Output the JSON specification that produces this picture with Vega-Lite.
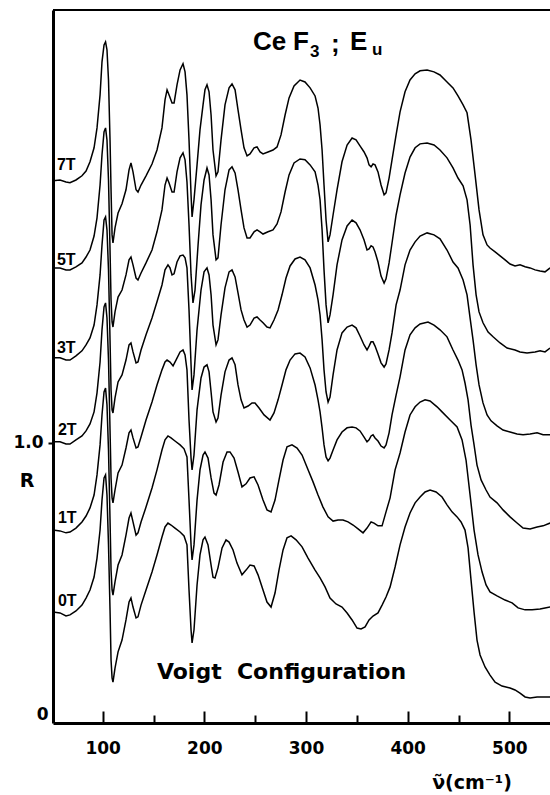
{
"$schema":"https://vega.github.io/schema/vega-lite/v6.json",
"width":497,"height":713,
"autosize":{"type":"none"},
"padding":{"left":53,"top":10,"right":0,"bottom":72},
"background":"white",
"config":{"view":{"stroke":null},"font":"DejaVu Sans"},
"datasets":{
"curves":[
{"s":"7T","nu":51.1,"R":1.936},{"s":"7T","nu":58.0,"R":1.939},{"s":"7T","nu":63.9,"R":1.932},{"s":"7T","nu":67.8,"R":1.929},{"s":"7T","nu":73.7,"R":1.939},{"s":"7T","nu":79.6,"R":1.954},{"s":"7T","nu":83.6,"R":1.971},{"s":"7T","nu":87.5,"R":2.004},{"s":"7T","nu":91.5,"R":2.054},{"s":"7T","nu":94.4,"R":2.125},{"s":"7T","nu":97.4,"R":2.243},{"s":"7T","nu":99.3,"R":2.361},{"s":"7T","nu":101.3,"R":2.421},{"s":"7T","nu":102.8,"R":2.432},{"s":"7T","nu":104.2,"R":2.404},{"s":"7T","nu":105.7,"R":2.296},{"s":"7T","nu":107.2,"R":2.082},{"s":"7T","nu":108.2,"R":1.904},{"s":"7T","nu":109.2,"R":1.743},{"s":"7T","nu":110.1,"R":1.714},{"s":"7T","nu":112.1,"R":1.768},{"s":"7T","nu":115.1,"R":1.821},{"s":"7T","nu":119.0,"R":1.854},{"s":"7T","nu":122.9,"R":1.904},{"s":"7T","nu":125.9,"R":1.975},{"s":"7T","nu":127.8,"R":2.000},{"s":"7T","nu":129.8,"R":1.968},{"s":"7T","nu":132.8,"R":1.904},{"s":"7T","nu":134.7,"R":1.896},{"s":"7T","nu":137.7,"R":1.921},{"s":"7T","nu":142.6,"R":1.954},{"s":"7T","nu":148.5,"R":1.996},{"s":"7T","nu":153.4,"R":2.046},{"s":"7T","nu":158.3,"R":2.125},{"s":"7T","nu":161.3,"R":2.225},{"s":"7T","nu":163.3,"R":2.261},{"s":"7T","nu":165.2,"R":2.243},{"s":"7T","nu":168.2,"R":2.214},{"s":"7T","nu":170.2,"R":2.214},{"s":"7T","nu":173.1,"R":2.279},{"s":"7T","nu":176.1,"R":2.332},{"s":"7T","nu":179.0,"R":2.354},{"s":"7T","nu":181.0,"R":2.325},{"s":"7T","nu":182.9,"R":2.243},{"s":"7T","nu":184.9,"R":2.082},{"s":"7T","nu":186.9,"R":1.886},{"s":"7T","nu":187.9,"R":1.807},{"s":"7T","nu":189.8,"R":1.868},{"s":"7T","nu":192.8,"R":1.993},{"s":"7T","nu":195.7,"R":2.118},{"s":"7T","nu":198.7,"R":2.207},{"s":"7T","nu":200.6,"R":2.261},{"s":"7T","nu":202.6,"R":2.279},{"s":"7T","nu":204.6,"R":2.254},{"s":"7T","nu":206.6,"R":2.171},{"s":"7T","nu":208.5,"R":2.046},{"s":"7T","nu":211.5,"R":1.954},{"s":"7T","nu":213.4,"R":1.968},{"s":"7T","nu":216.4,"R":2.082},{"s":"7T","nu":220.3,"R":2.207},{"s":"7T","nu":224.3,"R":2.268},{"s":"7T","nu":227.2,"R":2.282},{"s":"7T","nu":230.2,"R":2.261},{"s":"7T","nu":233.1,"R":2.189},{"s":"7T","nu":236.1,"R":2.118},{"s":"7T","nu":239.0,"R":2.054},{"s":"7T","nu":242.0,"R":2.025},{"s":"7T","nu":244.9,"R":2.032},{"s":"7T","nu":248.9,"R":2.054},{"s":"7T","nu":251.8,"R":2.057},{"s":"7T","nu":254.8,"R":2.039},{"s":"7T","nu":257.7,"R":2.032},{"s":"7T","nu":262.6,"R":2.039},{"s":"7T","nu":267.5,"R":2.046},{"s":"7T","nu":271.5,"R":2.057},{"s":"7T","nu":275.4,"R":2.100},{"s":"7T","nu":279.4,"R":2.171},{"s":"7T","nu":283.3,"R":2.232},{"s":"7T","nu":288.2,"R":2.275},{"s":"7T","nu":294.1,"R":2.296},{"s":"7T","nu":299.0,"R":2.289},{"s":"7T","nu":304.0,"R":2.268},{"s":"7T","nu":308.9,"R":2.239},{"s":"7T","nu":311.8,"R":2.196},{"s":"7T","nu":313.8,"R":2.136},{"s":"7T","nu":315.8,"R":2.046},{"s":"7T","nu":317.7,"R":1.921},{"s":"7T","nu":319.7,"R":1.796},{"s":"7T","nu":321.7,"R":1.718},{"s":"7T","nu":323.6,"R":1.743},{"s":"7T","nu":326.6,"R":1.814},{"s":"7T","nu":330.5,"R":1.904},{"s":"7T","nu":335.4,"R":2.004},{"s":"7T","nu":340.4,"R":2.064},{"s":"7T","nu":345.3,"R":2.089},{"s":"7T","nu":349.2,"R":2.082},{"s":"7T","nu":353.1,"R":2.061},{"s":"7T","nu":357.1,"R":2.039},{"s":"7T","nu":360.0,"R":2.018},{"s":"7T","nu":362.0,"R":1.993},{"s":"7T","nu":364.0,"R":1.986},{"s":"7T","nu":365.9,"R":1.996},{"s":"7T","nu":367.9,"R":1.993},{"s":"7T","nu":370.8,"R":1.968},{"s":"7T","nu":373.8,"R":1.921},{"s":"7T","nu":376.8,"R":1.886},{"s":"7T","nu":378.7,"R":1.893},{"s":"7T","nu":381.7,"R":1.946},{"s":"7T","nu":384.6,"R":2.011},{"s":"7T","nu":388.6,"R":2.100},{"s":"7T","nu":392.5,"R":2.182},{"s":"7T","nu":397.4,"R":2.254},{"s":"7T","nu":402.3,"R":2.296},{"s":"7T","nu":407.3,"R":2.318},{"s":"7T","nu":412.2,"R":2.329},{"s":"7T","nu":419.1,"R":2.332},{"s":"7T","nu":425.9,"R":2.325},{"s":"7T","nu":431.8,"R":2.314},{"s":"7T","nu":438.7,"R":2.289},{"s":"7T","nu":444.6,"R":2.268},{"s":"7T","nu":449.5,"R":2.239},{"s":"7T","nu":454.5,"R":2.207},{"s":"7T","nu":458.4,"R":2.179},{"s":"7T","nu":462.3,"R":2.082},{"s":"7T","nu":466.3,"R":1.957},{"s":"7T","nu":470.2,"R":1.832},{"s":"7T","nu":474.1,"R":1.743},{"s":"7T","nu":478.1,"R":1.707},{"s":"7T","nu":481.0,"R":1.696},{"s":"7T","nu":486.0,"R":1.682},{"s":"7T","nu":490.9,"R":1.668},{"s":"7T","nu":495.8,"R":1.654},{"s":"7T","nu":500.7,"R":1.639},{"s":"7T","nu":505.6,"R":1.632},{"s":"7T","nu":510.5,"R":1.636},{"s":"7T","nu":515.5,"R":1.629},{"s":"7T","nu":520.4,"R":1.625},{"s":"7T","nu":525.3,"R":1.618},{"s":"7T","nu":530.2,"R":1.614},{"s":"7T","nu":535.1,"R":1.611},{"s":"7T","nu":540.1,"R":1.625},
{"s":"5T","nu":51.1,"R":1.625},{"s":"5T","nu":58.0,"R":1.625},{"s":"5T","nu":63.9,"R":1.618},{"s":"5T","nu":67.8,"R":1.618},{"s":"5T","nu":73.7,"R":1.629},{"s":"5T","nu":79.6,"R":1.643},{"s":"5T","nu":83.6,"R":1.664},{"s":"5T","nu":87.5,"R":1.689},{"s":"5T","nu":91.5,"R":1.739},{"s":"5T","nu":94.4,"R":1.804},{"s":"5T","nu":97.4,"R":1.921},{"s":"5T","nu":99.3,"R":2.029},{"s":"5T","nu":101.3,"R":2.111},{"s":"5T","nu":102.8,"R":2.125},{"s":"5T","nu":104.2,"R":2.082},{"s":"5T","nu":105.7,"R":1.939},{"s":"5T","nu":107.2,"R":1.689},{"s":"5T","nu":108.2,"R":1.511},{"s":"5T","nu":109.2,"R":1.432},{"s":"5T","nu":110.1,"R":1.414},{"s":"5T","nu":112.1,"R":1.468},{"s":"5T","nu":115.1,"R":1.521},{"s":"5T","nu":119.0,"R":1.546},{"s":"5T","nu":122.9,"R":1.600},{"s":"5T","nu":125.9,"R":1.654},{"s":"5T","nu":127.8,"R":1.664},{"s":"5T","nu":129.8,"R":1.636},{"s":"5T","nu":132.8,"R":1.589},{"s":"5T","nu":134.7,"R":1.582},{"s":"5T","nu":137.7,"R":1.607},{"s":"5T","nu":142.6,"R":1.643},{"s":"5T","nu":148.5,"R":1.689},{"s":"5T","nu":153.4,"R":1.754},{"s":"5T","nu":158.3,"R":1.832},{"s":"5T","nu":161.3,"R":1.921},{"s":"5T","nu":163.3,"R":1.946},{"s":"5T","nu":165.2,"R":1.929},{"s":"5T","nu":168.2,"R":1.896},{"s":"5T","nu":170.2,"R":1.896},{"s":"5T","nu":173.1,"R":1.968},{"s":"5T","nu":176.1,"R":2.018},{"s":"5T","nu":179.0,"R":2.036},{"s":"5T","nu":181.0,"R":2.011},{"s":"5T","nu":182.9,"R":1.932},{"s":"5T","nu":184.9,"R":1.779},{"s":"5T","nu":186.9,"R":1.600},{"s":"5T","nu":188.8,"R":1.500},{"s":"5T","nu":190.8,"R":1.546},{"s":"5T","nu":193.8,"R":1.707},{"s":"5T","nu":196.7,"R":1.850},{"s":"5T","nu":199.7,"R":1.939},{"s":"5T","nu":202.6,"R":1.982},{"s":"5T","nu":204.6,"R":1.957},{"s":"5T","nu":206.6,"R":1.868},{"s":"5T","nu":208.5,"R":1.743},{"s":"5T","nu":211.5,"R":1.654},{"s":"5T","nu":213.4,"R":1.661},{"s":"5T","nu":216.4,"R":1.779},{"s":"5T","nu":220.3,"R":1.904},{"s":"5T","nu":224.3,"R":1.975},{"s":"5T","nu":227.2,"R":1.986},{"s":"5T","nu":230.2,"R":1.964},{"s":"5T","nu":233.1,"R":1.904},{"s":"5T","nu":236.1,"R":1.832},{"s":"5T","nu":239.0,"R":1.768},{"s":"5T","nu":242.0,"R":1.732},{"s":"5T","nu":244.9,"R":1.732},{"s":"5T","nu":248.9,"R":1.754},{"s":"5T","nu":251.8,"R":1.761},{"s":"5T","nu":254.8,"R":1.754},{"s":"5T","nu":257.7,"R":1.746},{"s":"5T","nu":262.6,"R":1.754},{"s":"5T","nu":267.5,"R":1.761},{"s":"5T","nu":271.5,"R":1.782},{"s":"5T","nu":275.4,"R":1.825},{"s":"5T","nu":279.4,"R":1.896},{"s":"5T","nu":283.3,"R":1.957},{"s":"5T","nu":288.2,"R":2.000},{"s":"5T","nu":294.1,"R":2.014},{"s":"5T","nu":299.0,"R":2.011},{"s":"5T","nu":304.0,"R":1.993},{"s":"5T","nu":308.9,"R":1.968},{"s":"5T","nu":311.8,"R":1.921},{"s":"5T","nu":313.8,"R":1.868},{"s":"5T","nu":315.8,"R":1.761},{"s":"5T","nu":317.7,"R":1.618},{"s":"5T","nu":319.7,"R":1.493},{"s":"5T","nu":321.7,"R":1.429},{"s":"5T","nu":323.6,"R":1.457},{"s":"5T","nu":326.6,"R":1.529},{"s":"5T","nu":330.5,"R":1.636},{"s":"5T","nu":335.4,"R":1.725},{"s":"5T","nu":340.4,"R":1.775},{"s":"5T","nu":345.3,"R":1.796},{"s":"5T","nu":349.2,"R":1.786},{"s":"5T","nu":353.1,"R":1.761},{"s":"5T","nu":357.1,"R":1.725},{"s":"5T","nu":360.0,"R":1.689},{"s":"5T","nu":362.0,"R":1.693},{"s":"5T","nu":364.0,"R":1.704},{"s":"5T","nu":365.9,"R":1.700},{"s":"5T","nu":367.9,"R":1.682},{"s":"5T","nu":370.8,"R":1.646},{"s":"5T","nu":373.8,"R":1.596},{"s":"5T","nu":376.8,"R":1.571},{"s":"5T","nu":378.7,"R":1.586},{"s":"5T","nu":381.7,"R":1.643},{"s":"5T","nu":384.6,"R":1.714},{"s":"5T","nu":388.6,"R":1.814},{"s":"5T","nu":392.5,"R":1.886},{"s":"5T","nu":397.4,"R":1.964},{"s":"5T","nu":402.3,"R":2.021},{"s":"5T","nu":407.3,"R":2.054},{"s":"5T","nu":412.2,"R":2.068},{"s":"5T","nu":419.1,"R":2.071},{"s":"5T","nu":425.9,"R":2.064},{"s":"5T","nu":431.8,"R":2.046},{"s":"5T","nu":438.7,"R":2.018},{"s":"5T","nu":444.6,"R":1.982},{"s":"5T","nu":449.5,"R":1.946},{"s":"5T","nu":454.5,"R":1.918},{"s":"5T","nu":458.4,"R":1.868},{"s":"5T","nu":461.4,"R":1.779},{"s":"5T","nu":464.3,"R":1.636},{"s":"5T","nu":467.3,"R":1.529},{"s":"5T","nu":470.2,"R":1.468},{"s":"5T","nu":474.1,"R":1.429},{"s":"5T","nu":479.1,"R":1.396},{"s":"5T","nu":484.0,"R":1.379},{"s":"5T","nu":490.9,"R":1.357},{"s":"5T","nu":497.8,"R":1.339},{"s":"5T","nu":505.6,"R":1.332},{"s":"5T","nu":510.5,"R":1.325},{"s":"5T","nu":517.4,"R":1.321},{"s":"5T","nu":525.3,"R":1.325},{"s":"5T","nu":530.2,"R":1.329},{"s":"5T","nu":535.1,"R":1.325},{"s":"5T","nu":540.1,"R":1.339},
{"s":"3T","nu":51.1,"R":1.304},{"s":"3T","nu":58.0,"R":1.304},{"s":"3T","nu":63.9,"R":1.296},{"s":"3T","nu":67.8,"R":1.296},{"s":"3T","nu":73.7,"R":1.311},{"s":"3T","nu":79.6,"R":1.329},{"s":"3T","nu":83.6,"R":1.350},{"s":"3T","nu":87.5,"R":1.375},{"s":"3T","nu":91.5,"R":1.421},{"s":"3T","nu":94.4,"R":1.493},{"s":"3T","nu":97.4,"R":1.600},{"s":"3T","nu":99.3,"R":1.707},{"s":"3T","nu":101.3,"R":1.796},{"s":"3T","nu":102.8,"R":1.807},{"s":"3T","nu":104.2,"R":1.761},{"s":"3T","nu":105.7,"R":1.618},{"s":"3T","nu":107.2,"R":1.368},{"s":"3T","nu":108.2,"R":1.189},{"s":"3T","nu":109.2,"R":1.118},{"s":"3T","nu":110.1,"R":1.107},{"s":"3T","nu":112.1,"R":1.161},{"s":"3T","nu":115.1,"R":1.218},{"s":"3T","nu":119.0,"R":1.243},{"s":"3T","nu":122.9,"R":1.296},{"s":"3T","nu":125.9,"R":1.350},{"s":"3T","nu":127.8,"R":1.357},{"s":"3T","nu":129.8,"R":1.325},{"s":"3T","nu":132.8,"R":1.286},{"s":"3T","nu":134.7,"R":1.289},{"s":"3T","nu":137.7,"R":1.332},{"s":"3T","nu":142.6,"R":1.386},{"s":"3T","nu":148.5,"R":1.446},{"s":"3T","nu":153.4,"R":1.504},{"s":"3T","nu":158.3,"R":1.564},{"s":"3T","nu":161.3,"R":1.618},{"s":"3T","nu":164.2,"R":1.636},{"s":"3T","nu":166.2,"R":1.625},{"s":"3T","nu":168.2,"R":1.600},{"s":"3T","nu":170.2,"R":1.604},{"s":"3T","nu":173.1,"R":1.646},{"s":"3T","nu":176.1,"R":1.668},{"s":"3T","nu":179.0,"R":1.671},{"s":"3T","nu":181.0,"R":1.661},{"s":"3T","nu":182.9,"R":1.625},{"s":"3T","nu":184.9,"R":1.475},{"s":"3T","nu":186.9,"R":1.279},{"s":"3T","nu":187.9,"R":1.189},{"s":"3T","nu":189.8,"R":1.243},{"s":"3T","nu":192.8,"R":1.404},{"s":"3T","nu":196.7,"R":1.546},{"s":"3T","nu":199.7,"R":1.611},{"s":"3T","nu":202.6,"R":1.625},{"s":"3T","nu":204.6,"R":1.600},{"s":"3T","nu":206.6,"R":1.529},{"s":"3T","nu":208.5,"R":1.421},{"s":"3T","nu":211.5,"R":1.350},{"s":"3T","nu":213.4,"R":1.368},{"s":"3T","nu":216.4,"R":1.457},{"s":"3T","nu":220.3,"R":1.554},{"s":"3T","nu":224.3,"R":1.611},{"s":"3T","nu":227.2,"R":1.618},{"s":"3T","nu":230.2,"R":1.593},{"s":"3T","nu":233.1,"R":1.536},{"s":"3T","nu":236.1,"R":1.475},{"s":"3T","nu":239.0,"R":1.439},{"s":"3T","nu":242.0,"R":1.414},{"s":"3T","nu":244.9,"R":1.421},{"s":"3T","nu":248.9,"R":1.446},{"s":"3T","nu":251.8,"R":1.450},{"s":"3T","nu":254.8,"R":1.439},{"s":"3T","nu":257.7,"R":1.429},{"s":"3T","nu":261.6,"R":1.414},{"s":"3T","nu":264.6,"R":1.411},{"s":"3T","nu":268.5,"R":1.439},{"s":"3T","nu":272.5,"R":1.475},{"s":"3T","nu":276.4,"R":1.529},{"s":"3T","nu":280.3,"R":1.589},{"s":"3T","nu":284.3,"R":1.632},{"s":"3T","nu":289.2,"R":1.657},{"s":"3T","nu":294.1,"R":1.664},{"s":"3T","nu":299.0,"R":1.654},{"s":"3T","nu":304.0,"R":1.625},{"s":"3T","nu":308.9,"R":1.564},{"s":"3T","nu":311.8,"R":1.511},{"s":"3T","nu":313.8,"R":1.457},{"s":"3T","nu":315.8,"R":1.368},{"s":"3T","nu":317.7,"R":1.261},{"s":"3T","nu":319.7,"R":1.182},{"s":"3T","nu":321.7,"R":1.146},{"s":"3T","nu":323.6,"R":1.164},{"s":"3T","nu":326.6,"R":1.243},{"s":"3T","nu":330.5,"R":1.332},{"s":"3T","nu":335.4,"R":1.393},{"s":"3T","nu":340.4,"R":1.414},{"s":"3T","nu":345.3,"R":1.421},{"s":"3T","nu":349.2,"R":1.411},{"s":"3T","nu":353.1,"R":1.382},{"s":"3T","nu":357.1,"R":1.350},{"s":"3T","nu":360.0,"R":1.332},{"s":"3T","nu":362.0,"R":1.346},{"s":"3T","nu":364.0,"R":1.361},{"s":"3T","nu":365.9,"R":1.361},{"s":"3T","nu":367.9,"R":1.346},{"s":"3T","nu":370.8,"R":1.318},{"s":"3T","nu":373.8,"R":1.286},{"s":"3T","nu":376.8,"R":1.271},{"s":"3T","nu":378.7,"R":1.282},{"s":"3T","nu":381.7,"R":1.332},{"s":"3T","nu":384.6,"R":1.393},{"s":"3T","nu":388.6,"R":1.493},{"s":"3T","nu":392.5,"R":1.546},{"s":"3T","nu":397.4,"R":1.636},{"s":"3T","nu":402.3,"R":1.689},{"s":"3T","nu":407.3,"R":1.718},{"s":"3T","nu":412.2,"R":1.739},{"s":"3T","nu":419.1,"R":1.750},{"s":"3T","nu":425.9,"R":1.743},{"s":"3T","nu":431.8,"R":1.729},{"s":"3T","nu":438.7,"R":1.689},{"s":"3T","nu":444.6,"R":1.646},{"s":"3T","nu":449.5,"R":1.625},{"s":"3T","nu":454.5,"R":1.582},{"s":"3T","nu":458.4,"R":1.529},{"s":"3T","nu":461.4,"R":1.446},{"s":"3T","nu":464.3,"R":1.368},{"s":"3T","nu":467.3,"R":1.279},{"s":"3T","nu":470.2,"R":1.207},{"s":"3T","nu":474.1,"R":1.143},{"s":"3T","nu":478.1,"R":1.100},{"s":"3T","nu":482.0,"R":1.079},{"s":"3T","nu":487.9,"R":1.061},{"s":"3T","nu":493.8,"R":1.046},{"s":"3T","nu":500.7,"R":1.039},{"s":"3T","nu":507.6,"R":1.032},{"s":"3T","nu":513.5,"R":1.029},{"s":"3T","nu":520.4,"R":1.032},{"s":"3T","nu":527.3,"R":1.036},{"s":"3T","nu":533.2,"R":1.029},{"s":"3T","nu":540.1,"R":1.029},
{"s":"2T","nu":51.1,"R":1.004},{"s":"2T","nu":58.0,"R":1.004},{"s":"2T","nu":63.9,"R":0.996},{"s":"2T","nu":67.8,"R":0.996},{"s":"2T","nu":73.7,"R":1.011},{"s":"2T","nu":79.6,"R":1.025},{"s":"2T","nu":83.6,"R":1.043},{"s":"2T","nu":87.5,"R":1.068},{"s":"2T","nu":91.5,"R":1.111},{"s":"2T","nu":94.4,"R":1.179},{"s":"2T","nu":97.4,"R":1.289},{"s":"2T","nu":99.3,"R":1.404},{"s":"2T","nu":101.3,"R":1.486},{"s":"2T","nu":102.8,"R":1.500},{"s":"2T","nu":104.2,"R":1.446},{"s":"2T","nu":105.7,"R":1.296},{"s":"2T","nu":107.2,"R":1.046},{"s":"2T","nu":108.2,"R":0.875},{"s":"2T","nu":109.2,"R":0.804},{"s":"2T","nu":110.1,"R":0.786},{"s":"2T","nu":112.1,"R":0.832},{"s":"2T","nu":115.1,"R":0.893},{"s":"2T","nu":119.0,"R":0.921},{"s":"2T","nu":122.9,"R":0.982},{"s":"2T","nu":125.9,"R":1.036},{"s":"2T","nu":127.8,"R":1.046},{"s":"2T","nu":129.8,"R":1.018},{"s":"2T","nu":132.8,"R":0.982},{"s":"2T","nu":134.7,"R":0.986},{"s":"2T","nu":137.7,"R":1.021},{"s":"2T","nu":142.6,"R":1.082},{"s":"2T","nu":148.5,"R":1.146},{"s":"2T","nu":153.4,"R":1.207},{"s":"2T","nu":158.3,"R":1.261},{"s":"2T","nu":161.3,"R":1.289},{"s":"2T","nu":163.3,"R":1.296},{"s":"2T","nu":166.2,"R":1.289},{"s":"2T","nu":169.2,"R":1.275},{"s":"2T","nu":172.1,"R":1.296},{"s":"2T","nu":176.1,"R":1.325},{"s":"2T","nu":179.0,"R":1.332},{"s":"2T","nu":181.0,"R":1.314},{"s":"2T","nu":182.9,"R":1.261},{"s":"2T","nu":184.9,"R":1.082},{"s":"2T","nu":186.9,"R":0.946},{"s":"2T","nu":187.9,"R":0.904},{"s":"2T","nu":189.8,"R":0.957},{"s":"2T","nu":192.8,"R":1.118},{"s":"2T","nu":196.7,"R":1.232},{"s":"2T","nu":199.7,"R":1.271},{"s":"2T","nu":202.6,"R":1.279},{"s":"2T","nu":204.6,"R":1.254},{"s":"2T","nu":206.6,"R":1.182},{"s":"2T","nu":208.5,"R":1.111},{"s":"2T","nu":211.5,"R":1.075},{"s":"2T","nu":213.4,"R":1.089},{"s":"2T","nu":216.4,"R":1.171},{"s":"2T","nu":220.3,"R":1.254},{"s":"2T","nu":224.3,"R":1.296},{"s":"2T","nu":227.2,"R":1.304},{"s":"2T","nu":230.2,"R":1.279},{"s":"2T","nu":233.1,"R":1.207},{"s":"2T","nu":236.1,"R":1.154},{"s":"2T","nu":239.0,"R":1.125},{"s":"2T","nu":243.0,"R":1.132},{"s":"2T","nu":246.9,"R":1.143},{"s":"2T","nu":249.8,"R":1.143},{"s":"2T","nu":253.8,"R":1.125},{"s":"2T","nu":258.7,"R":1.100},{"s":"2T","nu":264.6,"R":1.082},{"s":"2T","nu":268.5,"R":1.107},{"s":"2T","nu":272.5,"R":1.154},{"s":"2T","nu":276.4,"R":1.207},{"s":"2T","nu":280.3,"R":1.261},{"s":"2T","nu":284.3,"R":1.296},{"s":"2T","nu":289.2,"R":1.318},{"s":"2T","nu":294.1,"R":1.321},{"s":"2T","nu":299.0,"R":1.307},{"s":"2T","nu":304.0,"R":1.268},{"s":"2T","nu":308.9,"R":1.207},{"s":"2T","nu":311.8,"R":1.154},{"s":"2T","nu":313.8,"R":1.111},{"s":"2T","nu":315.8,"R":1.054},{"s":"2T","nu":317.7,"R":0.993},{"s":"2T","nu":319.7,"R":0.950},{"s":"2T","nu":321.7,"R":0.936},{"s":"2T","nu":323.6,"R":0.946},{"s":"2T","nu":326.6,"R":0.975},{"s":"2T","nu":330.5,"R":1.011},{"s":"2T","nu":335.4,"R":1.039},{"s":"2T","nu":340.4,"R":1.054},{"s":"2T","nu":345.3,"R":1.057},{"s":"2T","nu":349.2,"R":1.054},{"s":"2T","nu":353.1,"R":1.043},{"s":"2T","nu":357.1,"R":1.021},{"s":"2T","nu":360.0,"R":1.004},{"s":"2T","nu":362.0,"R":1.011},{"s":"2T","nu":364.0,"R":1.025},{"s":"2T","nu":365.9,"R":1.029},{"s":"2T","nu":367.9,"R":1.018},{"s":"2T","nu":370.8,"R":1.007},{"s":"2T","nu":373.8,"R":0.989},{"s":"2T","nu":376.8,"R":0.982},{"s":"2T","nu":378.7,"R":0.993},{"s":"2T","nu":381.7,"R":1.036},{"s":"2T","nu":384.6,"R":1.100},{"s":"2T","nu":388.6,"R":1.171},{"s":"2T","nu":392.5,"R":1.236},{"s":"2T","nu":397.4,"R":1.332},{"s":"2T","nu":402.3,"R":1.386},{"s":"2T","nu":407.3,"R":1.411},{"s":"2T","nu":412.2,"R":1.425},{"s":"2T","nu":420.0,"R":1.432},{"s":"2T","nu":425.9,"R":1.421},{"s":"2T","nu":431.8,"R":1.404},{"s":"2T","nu":438.7,"R":1.379},{"s":"2T","nu":444.6,"R":1.332},{"s":"2T","nu":449.5,"R":1.296},{"s":"2T","nu":453.5,"R":1.261},{"s":"2T","nu":456.4,"R":1.214},{"s":"2T","nu":459.4,"R":1.154},{"s":"2T","nu":462.3,"R":1.064},{"s":"2T","nu":465.3,"R":0.993},{"s":"2T","nu":468.2,"R":0.921},{"s":"2T","nu":472.2,"R":0.868},{"s":"2T","nu":477.1,"R":0.832},{"s":"2T","nu":481.0,"R":0.807},{"s":"2T","nu":487.9,"R":0.786},{"s":"2T","nu":493.8,"R":0.761},{"s":"2T","nu":500.7,"R":0.736},{"s":"2T","nu":507.6,"R":0.714},{"s":"2T","nu":513.5,"R":0.696},{"s":"2T","nu":520.4,"R":0.693},{"s":"2T","nu":527.3,"R":0.700},{"s":"2T","nu":533.2,"R":0.704},{"s":"2T","nu":540.1,"R":0.714},
{"s":"1T","nu":51.1,"R":0.689},{"s":"1T","nu":58.0,"R":0.686},{"s":"1T","nu":63.9,"R":0.679},{"s":"1T","nu":67.8,"R":0.682},{"s":"1T","nu":73.7,"R":0.696},{"s":"1T","nu":79.6,"R":0.718},{"s":"1T","nu":83.6,"R":0.739},{"s":"1T","nu":87.5,"R":0.768},{"s":"1T","nu":91.5,"R":0.814},{"s":"1T","nu":94.4,"R":0.886},{"s":"1T","nu":97.4,"R":0.993},{"s":"1T","nu":99.3,"R":1.100},{"s":"1T","nu":101.3,"R":1.182},{"s":"1T","nu":102.8,"R":1.196},{"s":"1T","nu":104.2,"R":1.136},{"s":"1T","nu":105.7,"R":0.975},{"s":"1T","nu":107.2,"R":0.725},{"s":"1T","nu":108.2,"R":0.546},{"s":"1T","nu":109.2,"R":0.475},{"s":"1T","nu":110.1,"R":0.457},{"s":"1T","nu":112.1,"R":0.504},{"s":"1T","nu":115.1,"R":0.564},{"s":"1T","nu":119.0,"R":0.600},{"s":"1T","nu":122.9,"R":0.671},{"s":"1T","nu":125.9,"R":0.732},{"s":"1T","nu":127.8,"R":0.750},{"s":"1T","nu":129.8,"R":0.718},{"s":"1T","nu":132.8,"R":0.671},{"s":"1T","nu":134.7,"R":0.679},{"s":"1T","nu":137.7,"R":0.718},{"s":"1T","nu":142.6,"R":0.771},{"s":"1T","nu":148.5,"R":0.839},{"s":"1T","nu":153.4,"R":0.904},{"s":"1T","nu":158.3,"R":0.975},{"s":"1T","nu":161.3,"R":1.011},{"s":"1T","nu":164.2,"R":1.025},{"s":"1T","nu":167.2,"R":1.018},{"s":"1T","nu":171.1,"R":1.007},{"s":"1T","nu":176.1,"R":0.993},{"s":"1T","nu":180.0,"R":0.979},{"s":"1T","nu":182.9,"R":0.950},{"s":"1T","nu":184.9,"R":0.796},{"s":"1T","nu":186.9,"R":0.636},{"s":"1T","nu":187.9,"R":0.582},{"s":"1T","nu":189.8,"R":0.636},{"s":"1T","nu":192.8,"R":0.796},{"s":"1T","nu":195.7,"R":0.904},{"s":"1T","nu":198.7,"R":0.957},{"s":"1T","nu":200.6,"R":0.968},{"s":"1T","nu":203.6,"R":0.946},{"s":"1T","nu":206.6,"R":0.875},{"s":"1T","nu":209.5,"R":0.821},{"s":"1T","nu":211.5,"R":0.814},{"s":"1T","nu":214.4,"R":0.850},{"s":"1T","nu":218.4,"R":0.932},{"s":"1T","nu":222.3,"R":0.968},{"s":"1T","nu":225.2,"R":0.968},{"s":"1T","nu":229.2,"R":0.946},{"s":"1T","nu":233.1,"R":0.896},{"s":"1T","nu":237.0,"R":0.843},{"s":"1T","nu":241.0,"R":0.854},{"s":"1T","nu":244.9,"R":0.875},{"s":"1T","nu":248.9,"R":0.879},{"s":"1T","nu":252.8,"R":0.850},{"s":"1T","nu":257.7,"R":0.796},{"s":"1T","nu":261.6,"R":0.761},{"s":"1T","nu":265.6,"R":0.754},{"s":"1T","nu":269.5,"R":0.796},{"s":"1T","nu":273.4,"R":0.868},{"s":"1T","nu":277.4,"R":0.939},{"s":"1T","nu":281.3,"R":0.986},{"s":"1T","nu":286.2,"R":0.993},{"s":"1T","nu":291.2,"R":0.982},{"s":"1T","nu":296.1,"R":0.957},{"s":"1T","nu":302.0,"R":0.904},{"s":"1T","nu":306.9,"R":0.861},{"s":"1T","nu":311.8,"R":0.814},{"s":"1T","nu":316.7,"R":0.771},{"s":"1T","nu":321.7,"R":0.736},{"s":"1T","nu":326.6,"R":0.721},{"s":"1T","nu":331.5,"R":0.725},{"s":"1T","nu":336.4,"R":0.725},{"s":"1T","nu":341.3,"R":0.718},{"s":"1T","nu":346.3,"R":0.707},{"s":"1T","nu":351.2,"R":0.693},{"s":"1T","nu":356.1,"R":0.679},{"s":"1T","nu":360.0,"R":0.696},{"s":"1T","nu":364.0,"R":0.718},{"s":"1T","nu":366.9,"R":0.714},{"s":"1T","nu":370.8,"R":0.704},{"s":"1T","nu":374.8,"R":0.704},{"s":"1T","nu":378.7,"R":0.754},{"s":"1T","nu":382.7,"R":0.804},{"s":"1T","nu":387.6,"R":0.904},{"s":"1T","nu":392.5,"R":0.964},{"s":"1T","nu":397.4,"R":1.039},{"s":"1T","nu":402.3,"R":1.100},{"s":"1T","nu":407.3,"R":1.129},{"s":"1T","nu":412.2,"R":1.146},{"s":"1T","nu":417.1,"R":1.154},{"s":"1T","nu":422.0,"R":1.150},{"s":"1T","nu":428.9,"R":1.129},{"s":"1T","nu":433.8,"R":1.111},{"s":"1T","nu":441.7,"R":1.082},{"s":"1T","nu":448.6,"R":1.057},{"s":"1T","nu":453.5,"R":1.011},{"s":"1T","nu":457.4,"R":0.939},{"s":"1T","nu":461.4,"R":0.814},{"s":"1T","nu":465.3,"R":0.689},{"s":"1T","nu":469.2,"R":0.600},{"s":"1T","nu":473.2,"R":0.539},{"s":"1T","nu":477.1,"R":0.493},{"s":"1T","nu":481.0,"R":0.468},{"s":"1T","nu":487.9,"R":0.454},{"s":"1T","nu":495.8,"R":0.439},{"s":"1T","nu":502.7,"R":0.429},{"s":"1T","nu":508.6,"R":0.411},{"s":"1T","nu":515.5,"R":0.404},{"s":"1T","nu":522.4,"R":0.404},{"s":"1T","nu":530.2,"R":0.407},{"s":"1T","nu":535.1,"R":0.411},{"s":"1T","nu":540.1,"R":0.414},
{"s":"0T","nu":51.1,"R":0.396},{"s":"0T","nu":58.0,"R":0.393},{"s":"0T","nu":63.9,"R":0.382},{"s":"0T","nu":67.8,"R":0.386},{"s":"0T","nu":73.7,"R":0.400},{"s":"0T","nu":79.6,"R":0.421},{"s":"0T","nu":83.6,"R":0.446},{"s":"0T","nu":87.5,"R":0.475},{"s":"0T","nu":91.5,"R":0.521},{"s":"0T","nu":94.4,"R":0.589},{"s":"0T","nu":97.4,"R":0.689},{"s":"0T","nu":99.3,"R":0.796},{"s":"0T","nu":101.3,"R":0.875},{"s":"0T","nu":102.8,"R":0.886},{"s":"0T","nu":104.2,"R":0.814},{"s":"0T","nu":105.7,"R":0.636},{"s":"0T","nu":107.2,"R":0.404},{"s":"0T","nu":108.2,"R":0.225},{"s":"0T","nu":109.2,"R":0.161},{"s":"0T","nu":110.1,"R":0.146},{"s":"0T","nu":112.1,"R":0.196},{"s":"0T","nu":115.1,"R":0.254},{"s":"0T","nu":119.0,"R":0.296},{"s":"0T","nu":122.9,"R":0.368},{"s":"0T","nu":125.9,"R":0.432},{"s":"0T","nu":127.8,"R":0.446},{"s":"0T","nu":129.8,"R":0.414},{"s":"0T","nu":132.8,"R":0.375},{"s":"0T","nu":134.7,"R":0.379},{"s":"0T","nu":137.7,"R":0.421},{"s":"0T","nu":142.6,"R":0.475},{"s":"0T","nu":148.5,"R":0.539},{"s":"0T","nu":153.4,"R":0.600},{"s":"0T","nu":158.3,"R":0.664},{"s":"0T","nu":161.3,"R":0.700},{"s":"0T","nu":164.2,"R":0.714},{"s":"0T","nu":167.2,"R":0.707},{"s":"0T","nu":171.1,"R":0.696},{"s":"0T","nu":176.1,"R":0.682},{"s":"0T","nu":180.0,"R":0.668},{"s":"0T","nu":182.9,"R":0.636},{"s":"0T","nu":184.9,"R":0.475},{"s":"0T","nu":186.9,"R":0.332},{"s":"0T","nu":187.9,"R":0.286},{"s":"0T","nu":189.8,"R":0.332},{"s":"0T","nu":192.8,"R":0.493},{"s":"0T","nu":195.7,"R":0.600},{"s":"0T","nu":198.7,"R":0.654},{"s":"0T","nu":200.6,"R":0.664},{"s":"0T","nu":203.6,"R":0.636},{"s":"0T","nu":206.6,"R":0.564},{"s":"0T","nu":208.5,"R":0.521},{"s":"0T","nu":210.5,"R":0.518},{"s":"0T","nu":213.4,"R":0.554},{"s":"0T","nu":217.4,"R":0.625},{"s":"0T","nu":221.3,"R":0.654},{"s":"0T","nu":224.3,"R":0.646},{"s":"0T","nu":228.2,"R":0.618},{"s":"0T","nu":232.1,"R":0.571},{"s":"0T","nu":237.0,"R":0.529},{"s":"0T","nu":241.0,"R":0.546},{"s":"0T","nu":244.9,"R":0.564},{"s":"0T","nu":248.9,"R":0.561},{"s":"0T","nu":252.8,"R":0.529},{"s":"0T","nu":257.7,"R":0.475},{"s":"0T","nu":261.6,"R":0.432},{"s":"0T","nu":265.6,"R":0.414},{"s":"0T","nu":269.5,"R":0.464},{"s":"0T","nu":273.4,"R":0.546},{"s":"0T","nu":277.4,"R":0.618},{"s":"0T","nu":281.3,"R":0.661},{"s":"0T","nu":285.3,"R":0.668},{"s":"0T","nu":290.2,"R":0.654},{"s":"0T","nu":296.1,"R":0.629},{"s":"0T","nu":302.0,"R":0.589},{"s":"0T","nu":308.9,"R":0.546},{"s":"0T","nu":313.8,"R":0.518},{"s":"0T","nu":318.7,"R":0.486},{"s":"0T","nu":323.6,"R":0.446},{"s":"0T","nu":329.5,"R":0.425},{"s":"0T","nu":335.4,"R":0.414},{"s":"0T","nu":340.4,"R":0.393},{"s":"0T","nu":345.3,"R":0.368},{"s":"0T","nu":350.2,"R":0.339},{"s":"0T","nu":354.1,"R":0.336},{"s":"0T","nu":358.1,"R":0.343},{"s":"0T","nu":362.0,"R":0.368},{"s":"0T","nu":365.9,"R":0.382},{"s":"0T","nu":370.8,"R":0.393},{"s":"0T","nu":374.8,"R":0.421},{"s":"0T","nu":378.7,"R":0.450},{"s":"0T","nu":382.7,"R":0.486},{"s":"0T","nu":387.6,"R":0.557},{"s":"0T","nu":392.5,"R":0.636},{"s":"0T","nu":397.4,"R":0.700},{"s":"0T","nu":402.3,"R":0.750},{"s":"0T","nu":407.3,"R":0.786},{"s":"0T","nu":412.2,"R":0.807},{"s":"0T","nu":417.1,"R":0.825},{"s":"0T","nu":422.0,"R":0.832},{"s":"0T","nu":427.9,"R":0.825},{"s":"0T","nu":433.8,"R":0.807},{"s":"0T","nu":438.7,"R":0.779},{"s":"0T","nu":443.6,"R":0.754},{"s":"0T","nu":448.6,"R":0.736},{"s":"0T","nu":452.5,"R":0.718},{"s":"0T","nu":456.4,"R":0.689},{"s":"0T","nu":459.4,"R":0.625},{"s":"0T","nu":462.3,"R":0.511},{"s":"0T","nu":465.3,"R":0.396},{"s":"0T","nu":468.2,"R":0.296},{"s":"0T","nu":471.2,"R":0.243},{"s":"0T","nu":476.1,"R":0.200},{"s":"0T","nu":481.0,"R":0.171},{"s":"0T","nu":486.0,"R":0.146},{"s":"0T","nu":492.8,"R":0.132},{"s":"0T","nu":500.7,"R":0.125},{"s":"0T","nu":505.6,"R":0.118},{"s":"0T","nu":510.5,"R":0.107},{"s":"0T","nu":515.5,"R":0.093},{"s":"0T","nu":520.4,"R":0.089},{"s":"0T","nu":527.3,"R":0.093},{"s":"0T","nu":535.1,"R":0.093},{"s":"0T","nu":540.1,"R":0.093}
],
"labels":[
{"s":"7T","nu":55.0,"R":1.993},{"s":"5T","nu":55.0,"R":1.654},{"s":"3T","nu":55.0,"R":1.339},{"s":"2T","nu":55.9,"R":1.046},{"s":"1T","nu":55.9,"R":0.732},{"s":"0T","nu":55.9,"R":0.436}
],
"titleMain":[
{"t":"Ce","nu":247.9,"R":2.404},{"t":"F","nu":287.2,"R":2.404},{"t":";","nu":324.6,"R":2.396},{"t":"E","nu":343.3,"R":2.404}
],
"titleSub":[
{"t":"3","nu":303.9,"R":2.379},{"t":"u","nu":364.9,"R":2.386}
],
"note":[{"t":"Voigt\u00a0 Configuration","nu":275.9,"R":0.157}],
"frame":[{"R":2.546}]
},
"layer":[
{"data":{"name":"curves"},
 "mark":{"type":"line","color":"black","strokeWidth":1.5,"clip":true},
 "encoding":{
  "x":{"field":"nu","type":"quantitative","scale":{"domain":[51.1,540],"nice":false,"zero":false},
   "axis":{"title":"ν̃(cm⁻¹)","values":[100,150,200,250,300,350,400,450,500],
    "labelExpr":"datum.value % 100 === 0 ? datum.label : ''","grid":false,
    "domainColor":"black","domainWidth":3,"tickColor":"black","tickWidth":2,
    "tickSize":{"condition":{"test":"datum.value % 100 !== 0","value":-8},"value":-12},
    "labelFont":"DejaVu Sans","labelFontSize":17,"labelFontWeight":"bold","labelColor":"black",
    "labelPadding":29,"labelBaseline":"top",
    "titleFont":"DejaVu Sans","titleFontSize":19,"titleFontWeight":"bold","titleColor":"black",
    "titleX":418.5,"titleY":59,"titleAlign":"center","titleBaseline":"middle"}},
  "y":{"field":"R","type":"quantitative","scale":{"domain":[0,2.546],"nice":false,"zero":false},
   "axis":{"title":"R","values":[0,1],"labelExpr":"datum.value === 1 ? '1.0' : '0'","labelFlush":true,"grid":false,
    "domainColor":"black","domainWidth":3,"tickColor":"black","tickWidth":2,
    "tickSize":{"condition":{"test":"datum.value === 0","value":0},"value":5},
    "labelPadding":5,"labelFont":"DejaVu Sans","labelFontSize":17,"labelFontWeight":"bold","labelColor":"black",
    "titleAngle":0,"titleX":-26.5,"titleY":470,"titleAlign":"center","titleBaseline":"middle",
    "titleFont":"DejaVu Sans","titleFontSize":19,"titleFontWeight":"bold","titleColor":"black"}},
  "detail":{"field":"s","type":"nominal"}
 }},
{"data":{"name":"frame"},
 "mark":{"type":"rule","color":"black","strokeWidth":2},
 "encoding":{"y":{"field":"R","type":"quantitative"}}},
{"data":{"name":"labels"},
 "mark":{"type":"text","align":"left","baseline":"middle","font":"Liberation Sans","fontWeight":"bold","fontSize":16,"color":"black"},
 "encoding":{"x":{"field":"nu","type":"quantitative"},"y":{"field":"R","type":"quantitative"},"text":{"field":"s"}}},
{"data":{"name":"titleMain"},
 "mark":{"type":"text","align":"left","baseline":"alphabetic","font":"Liberation Sans","fontWeight":"bold","fontSize":26,"color":"black"},
 "encoding":{"x":{"field":"nu","type":"quantitative"},"y":{"field":"R","type":"quantitative"},"text":{"field":"t"}}},
{"data":{"name":"titleSub"},
 "mark":{"type":"text","align":"left","baseline":"alphabetic","font":"Liberation Sans","fontWeight":"bold","fontSize":17,"color":"black"},
 "encoding":{"x":{"field":"nu","type":"quantitative"},"y":{"field":"R","type":"quantitative"},"text":{"field":"t"}}},
{"data":{"name":"note"},
 "mark":{"type":"text","align":"center","baseline":"alphabetic","font":"DejaVu Sans","fontWeight":"bold","fontSize":22,"color":"black"},
 "encoding":{"x":{"field":"nu","type":"quantitative"},"y":{"field":"R","type":"quantitative"},"text":{"field":"t"}}}
]
}
